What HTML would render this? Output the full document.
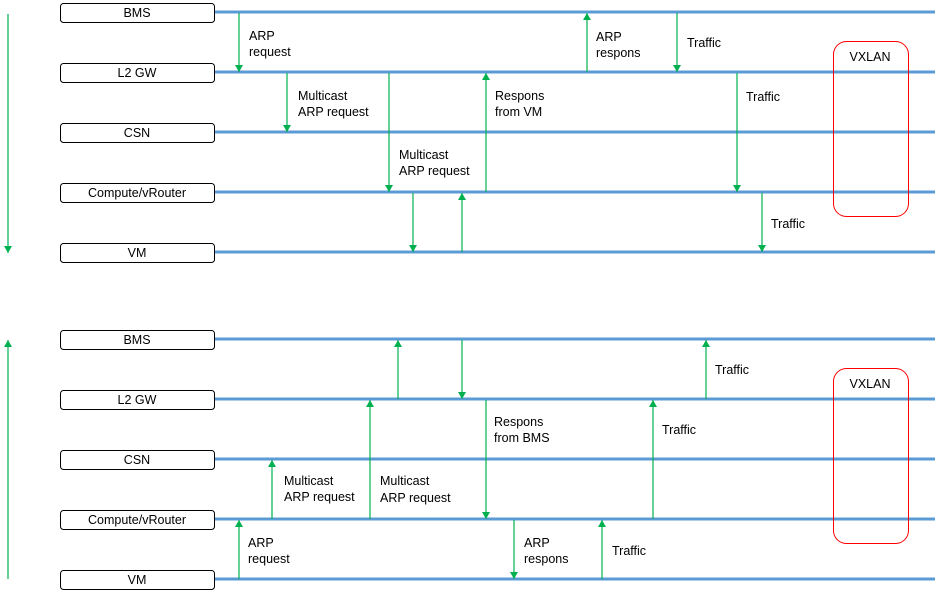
<!DOCTYPE html>
<html><head><meta charset="utf-8"><style>
html,body{margin:0;padding:0;background:#fff;}
svg{display:block;font-family:"Liberation Sans",Arial,sans-serif;font-size:12.5px;}
</style></head><body>
<svg width="938" height="596" viewBox="0 0 938 596" xmlns="http://www.w3.org/2000/svg">
<defs>
<marker id="ah" markerWidth="8" markerHeight="8" refX="7" refY="4" orient="auto" markerUnits="userSpaceOnUse" viewBox="0 0 8 8"><path d="M0,0 L7,4 L0,8 Z" fill="#00b050"/></marker>
</defs>
<g stroke="#5b9bd5" stroke-width="3">
<line x1="215" y1="12" x2="935" y2="12"/><line x1="215" y1="72" x2="935" y2="72"/><line x1="215" y1="132" x2="935" y2="132"/><line x1="215" y1="192" x2="935" y2="192"/><line x1="215" y1="252" x2="935" y2="252"/>
<line x1="215" y1="339" x2="935" y2="339"/><line x1="215" y1="399" x2="935" y2="399"/><line x1="215" y1="459" x2="935" y2="459"/><line x1="215" y1="519" x2="935" y2="519"/><line x1="215" y1="579" x2="935" y2="579"/>
</g>
<g fill="#fff" stroke="#000" stroke-width="1">
<rect x="60.5" y="3.5" width="154" height="19" rx="3"/><rect x="60.5" y="63.5" width="154" height="19" rx="3"/><rect x="60.5" y="123.5" width="154" height="19" rx="3"/><rect x="60.5" y="183.5" width="154" height="19" rx="3"/><rect x="60.5" y="243.5" width="154" height="19" rx="3"/>
<rect x="60.5" y="330.5" width="154" height="19" rx="3"/><rect x="60.5" y="390.5" width="154" height="19" rx="3"/><rect x="60.5" y="450.5" width="154" height="19" rx="3"/><rect x="60.5" y="510.5" width="154" height="19" rx="3"/><rect x="60.5" y="570.5" width="154" height="19" rx="3"/>
</g>
<g text-anchor="middle" fill="#000">
<text x="137" y="17">BMS</text><text x="137" y="77">L2 GW</text><text x="137" y="137">CSN</text><text x="137" y="197">Compute/vRouter</text><text x="137" y="257">VM</text>
<text x="137" y="344">BMS</text><text x="137" y="404">L2 GW</text><text x="137" y="464">CSN</text><text x="137" y="524">Compute/vRouter</text><text x="137" y="584">VM</text>
</g>
<g fill="none" stroke="#ff0000" stroke-width="1">
<rect x="833.5" y="41.5" width="75" height="175" rx="13"/>
<rect x="833.5" y="368.5" width="75" height="175" rx="13"/>
</g>
<text x="870" y="61" text-anchor="middle">VXLAN</text>
<text x="870" y="388" text-anchor="middle">VXLAN</text>
<g stroke="#00b050" stroke-width="1.2" marker-end="url(#ah)">
<line x1="8" y1="14" x2="8" y2="253"/>
<line x1="8" y1="579" x2="8" y2="340"/>
<line x1="239" y1="13" x2="239" y2="72"/>
<line x1="287" y1="73" x2="287" y2="132"/>
<line x1="389" y1="73" x2="389" y2="192"/>
<line x1="413" y1="193" x2="413" y2="252"/>
<line x1="462" y1="252" x2="462" y2="193"/>
<line x1="486" y1="192" x2="486" y2="73"/>
<line x1="587" y1="72" x2="587" y2="13"/>
<line x1="677" y1="13" x2="677" y2="72"/>
<line x1="737" y1="73" x2="737" y2="192"/>
<line x1="762" y1="193" x2="762" y2="252"/>
<line x1="398" y1="399" x2="398" y2="340"/>
<line x1="462" y1="340" x2="462" y2="399"/>
<line x1="706" y1="399" x2="706" y2="340"/>
<line x1="370" y1="519" x2="370" y2="400"/>
<line x1="486" y1="400" x2="486" y2="519"/>
<line x1="653" y1="519" x2="653" y2="400"/>
<line x1="272" y1="519" x2="272" y2="460"/>
<line x1="239" y1="579" x2="239" y2="520"/>
<line x1="514" y1="520" x2="514" y2="579"/>
<line x1="602" y1="579" x2="602" y2="520"/>
</g>
<g fill="#000">
<text x="249" y="40">ARP</text><text x="249" y="56">request</text>
<text x="298" y="100">Multicast</text><text x="298" y="116">ARP request</text>
<text x="399" y="159">Multicast</text><text x="399" y="175">ARP request</text>
<text x="495" y="100">Respons</text><text x="495" y="116">from VM</text>
<text x="596" y="41">ARP</text><text x="596" y="57">respons</text>
<text x="687" y="47">Traffic</text>
<text x="746" y="101">Traffic</text>
<text x="771" y="228">Traffic</text>
<text x="715" y="374">Traffic</text>
<text x="494" y="426">Respons</text><text x="494" y="442">from BMS</text>
<text x="662" y="434">Traffic</text>
<text x="284" y="485">Multicast</text><text x="284" y="501">ARP request</text>
<text x="380" y="485">Multicast</text><text x="380" y="502">ARP request</text>
<text x="248" y="547">ARP</text><text x="248" y="563">request</text>
<text x="524" y="547">ARP</text><text x="524" y="563">respons</text>
<text x="612" y="555">Traffic</text>
</g>
</svg>
</body></html>
